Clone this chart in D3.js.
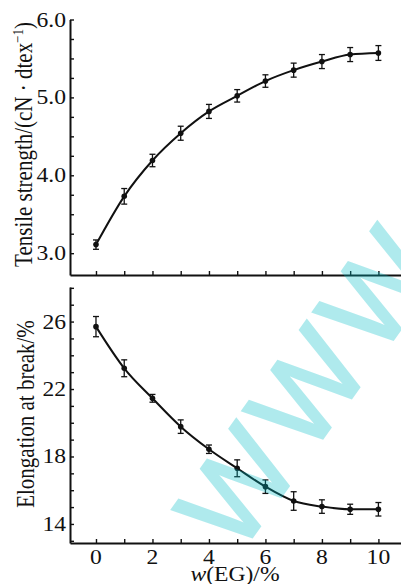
<!DOCTYPE html>
<html>
<head>
<meta charset="utf-8">
<script src="https://cdn.jsdelivr.net/npm/d3@7"></script>
<style>
  html, body { margin: 0; padding: 0; background: #fff; }
  svg { display: block; }
  text { font-family: "Liberation Serif", "Times New Roman", serif; fill: #111; }
</style>
</head>
<body>
<script>
// ---- data ----
const xValues = [0, 1, 2, 3, 4, 5, 6, 7, 8, 9, 10];
const strength = [3.11, 3.73, 4.19, 4.54, 4.82, 5.02, 5.21, 5.35, 5.46, 5.55, 5.57];
const strengthErr = [0.06, 0.10, 0.08, 0.09, 0.09, 0.08, 0.08, 0.09, 0.09, 0.09, 0.095];
const elongation = [25.70, 23.23, 21.45, 19.77, 18.43, 17.30, 16.21, 15.36, 15.03, 14.87, 14.87];
const elongationErr = [0.6, 0.5, 0.23, 0.4, 0.25, 0.5, 0.4, 0.55, 0.4, 0.3, 0.4];
const xTickLabels = ["0", "2", "4", "6", "8", "10"];
const strengthTickLabels = ["3.0", "4.0", "5.0", "6.0"];
const elongationTickLabels = ["14", "18", "22", "26"];
const strengthTitle = "Tensile strength/(cN · dtex";
const elongationTitle = "Elongation at break/%";
const watermarkText = "WWW";

const W = 401, H = 584;
const SX = 1.18; // horizontal stretch of glyphs

const svg = d3.select("body").append("svg").attr("width", W).attr("height", H);

const x = d3.scaleLinear().domain([-0.92, 10.8]).range([70, 401]);
const yTop = d3.scaleLinear().domain([2.72, 6.0]).range([275, 19.5]);
const yBot = d3.scaleLinear().domain([12.87, 28.05]).range([543, 287]);

function panel(y, values, errs, minorTicks, labels, labelVals, showXLabels) {
  const g = svg.append("g");
  const y0 = y.range()[0];
  const ax = g.append("g").attr("transform", `translate(0,${y0})`)
    .call(d3.axisBottom(x).tickValues(xValues).tickSize(-4).tickSizeOuter(0).tickFormat(""));
  const ay = g.append("g").attr("transform", `translate(${x.range()[0]},0)`)
    .call(d3.axisLeft(y).tickValues(minorTicks).tickSize(-4).tickSizeOuter(0).tickFormat(""));
  [ax, ay].forEach(a => {
    a.select(".domain").attr("stroke", "#111").attr("stroke-width", 2);
    a.selectAll(".tick line").attr("stroke", "#111").attr("stroke-width", 1.4);
  });
  labelVals.forEach((v, i) => {
    g.append("text")
      .attr("transform", `translate(66,${y(v)}) scale(${SX},1)`)
      .attr("text-anchor", "end").attr("dy", "0.35em")
      .attr("font-size", 20).text(labels[i]);
  });
  if (showXLabels) {
    xTickLabels.forEach(l => {
      g.append("text")
        .attr("transform", `translate(${x(+l)},564) scale(${SX},1)`)
        .attr("text-anchor", "middle").attr("font-size", 20).text(l);
    });
  }
  const line = d3.line().x((d, i) => x(xValues[i])).y(d => y(d)).curve(d3.curveMonotoneX);
  g.append("path").datum(values).attr("d", line)
    .attr("fill", "none").attr("stroke", "#111").attr("stroke-width", 2);
  const eb = g.append("g").attr("stroke", "#111").attr("stroke-width", 1.3);
  values.forEach((v, i) => {
    const cx = x(xValues[i]);
    const t = y(v + errs[i]), b = y(v - errs[i]);
    eb.append("line").attr("x1", cx).attr("x2", cx).attr("y1", t).attr("y2", b);
    eb.append("line").attr("x1", cx - 3).attr("x2", cx + 3).attr("y1", t).attr("y2", t);
    eb.append("line").attr("x1", cx - 3).attr("x2", cx + 3).attr("y1", b).attr("y2", b);
  });
  g.selectAll("circle.pt").data(values).enter().append("circle")
    .attr("cx", (d, i) => x(xValues[i])).attr("cy", d => y(d))
    .attr("r", 2.8).attr("fill", "#111");
}

const topMinor = d3.range(12, 25).map(k => k * 0.25);
const botMinor = d3.range(13, 29);
panel(yTop, strength, strengthErr, topMinor, strengthTickLabels, [3, 4, 5, 6], false);
panel(yBot, elongation, elongationErr, botMinor, elongationTickLabels, [14, 18, 22, 26], true);

const t1 = svg.append("text")
  .attr("transform", `translate(32,144.5) scale(${SX},1) rotate(-90)`)
  .attr("text-anchor", "middle").attr("font-size", 21);
t1.append("tspan").text(strengthTitle);
t1.append("tspan").attr("baseline-shift", "super").attr("font-size", 13).text("−1");
t1.append("tspan").text(")");

svg.append("text")
  .attr("transform", `translate(34,414) scale(${SX},1) rotate(-90)`)
  .attr("text-anchor", "middle").attr("font-size", 21).text(elongationTitle);

const xt = svg.append("text")
  .attr("transform", `translate(235,581) scale(${SX},1)`)
  .attr("text-anchor", "middle").attr("font-size", 20);
xt.append("tspan").attr("font-style", "italic").text("w");
xt.append("tspan").text("(EG)/%");

// watermark
svg.append("text")
  .attr("transform", "translate(238,557) rotate(-54.5)")
  .attr("font-size", 118).attr("letter-spacing", 10)
  .style("font-family", "'Liberation Sans', Arial, sans-serif")
  .style("fill", "rgb(0,190,200)").style("stroke", "rgb(0,190,200)")
  .style("stroke-width", 2.5).style("stroke-linejoin", "miter")
  .attr("opacity", 0.31)
  .text(watermarkText);
</script>
</body>
</html>
